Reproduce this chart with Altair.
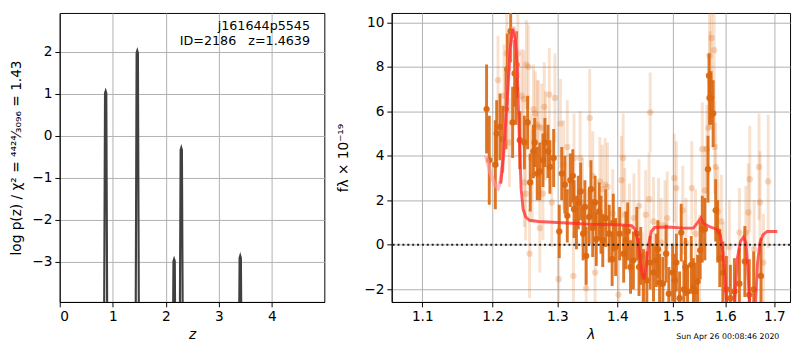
import altair as alt
import pandas as pd

# ---------------- left panel: log p(z) ----------------
pz_z = [0.0, 0.826, 0.854, 0.866, 0.878, 0.906,
        1.422, 1.450, 1.462, 1.474, 1.502,
        2.117, 2.145, 2.157, 2.169, 2.197,
        2.252, 2.280, 2.292, 2.304, 2.332,
        3.364, 3.392, 3.404, 3.416, 3.444, 4.99]
pz_logp = [-8, -8, 1.02, 1.07, 1.02, -8,
           -8, 1.98, 2.03, 1.98, -8,
           -8, -2.98, -2.93, -2.98, -8,
           -8, -0.33, -0.28, -0.33, -8,
           -8, -2.90, -2.85, -2.90, -8, -8]
ann_labels = ["j161644p5545", "ID=2186\u00a0\u00a0\u00a0z=1.4639"]
ann_z = [4.72, 4.72]
ann_logp = [2.62, 2.27]

# ---------------- right panel: spectrum ----------------
dark_wave = [1.191, 1.195, 1.204, 1.206, 1.211, 1.215, 1.220, 1.222, 1.227, 1.230,
             1.233, 1.236, 1.235, 1.241, 1.248, 1.253, 1.257, 1.262, 1.264, 1.268,
             1.272, 1.277, 1.280, 1.285, 1.288, 1.294, 1.303, 1.307, 1.312, 1.316,
             1.321, 1.325, 1.327, 1.331, 1.334, 1.338, 1.342, 1.345, 1.347, 1.352,
             1.355, 1.358, 1.362, 1.364, 1.369, 1.372, 1.375, 1.380, 1.386, 1.391,
             1.393, 1.397, 1.404, 1.411, 1.415, 1.418, 1.423, 1.428, 1.434, 1.438,
             1.441, 1.446, 1.452, 1.458, 1.464, 1.469, 1.472, 1.475, 1.481, 1.487,
             1.492, 1.499, 1.503, 1.506, 1.512, 1.515, 1.520, 1.523, 1.527, 1.534,
             1.538, 1.541, 1.546, 1.551, 1.555, 1.560, 1.566, 1.568, 1.569, 1.572,
             1.576, 1.581, 1.585, 1.589, 1.595, 1.602, 1.610, 1.618, 1.628, 1.639,
             1.648, 1.657, 1.672]
dark_flux = [6.1, 3.8, 3.6, 5.0, 5.3, 4.75, 6.1, 7.9, 9.6, 5.5,
             7.7, 8.1, 7.0, 4.7, 4.6, 5.5, 2.8, 4.2, 4.6, 3.2,
             3.3, 3.8, 4.6, 4.2, 3.5, 3.9, 0.6, 3.2, 2.7, 1.3,
             2.9, 3.1, 1.6, 1.0, 1.9, 2.4, 0.5, 1.7, -0.5, 1.25,
             2.5, 0.75, 1.9, 0.25, 1.5, 0.9, 0.2, 1.2, 0.5, -0.65,
             1.0, -0.1, 0.5, -0.4, 0.2, 0.6, -1.0, -0.7, 0.5, -1.0,
             -0.5, -1.4, -1.6, -0.8, -1.25, -0.7, -0.2, -1.7, -1.75, -0.4,
             -2.2, -1.25, -1.6, -0.8, -2.4, 0.55, -2.0, -1.0, -2.1, -0.9,
             -1.9, -2.1, -1.65, -0.25, 0.7, 0.7, 3.4, 7.6, 6.6, 6.6,
             5.9, 1.55, 0.6, -0.6, -1.25, -2.0, -2.4, -2.1, -1.75, -0.75,
             -2.25, -2.0, -1.4]
dark_err = [2.0, 2.0, 2.0, 1.5, 1.5, 1.5, 1.8, 1.6, 1.4, 1.6,
            1.5, 1.5, 1.6, 1.3, 1.2, 1.2, 1.3, 1.2, 1.1, 1.2,
            1.3, 1.2, 1.1, 1.2, 1.2, 1.3, 1.2, 1.2, 1.3, 1.2,
            1.2, 1.2, 1.3, 1.2, 1.2, 1.3, 1.2, 1.2, 1.3, 1.2,
            1.3, 1.3, 1.2, 1.2, 1.3, 1.3, 1.2, 1.3, 1.3, 1.2,
            1.3, 1.3, 1.2, 1.3, 1.3, 1.3, 1.2, 1.3, 1.2, 1.3,
            1.3, 1.2, 1.3, 1.2, 1.3, 1.2, 1.3, 1.3, 1.2, 1.3,
            1.2, 1.3, 1.2, 1.3, 1.2, 1.3, 1.3, 1.3, 1.2, 1.3,
            1.3, 1.3, 1.2, 1.3, 1.5, 1.4, 1.5, 1.0, 1.2, 1.2,
            1.5, 1.4, 1.4, 1.3, 1.4, 1.5, 1.5, 1.5, 1.6, 1.6,
            1.6, 1.7, 1.7]

light_wave = [1.208, 1.217, 1.221, 1.225, 1.238, 1.244, 1.247, 1.251, 1.254, 1.248,
              1.250, 1.256, 1.258, 1.260, 1.262, 1.265, 1.268, 1.270, 1.272, 1.275,
              1.277, 1.279, 1.281, 1.287, 1.291, 1.296, 1.302, 1.305, 1.310, 1.316,
              1.326, 1.327, 1.337, 1.341, 1.347, 1.353, 1.358, 1.362, 1.370, 1.374,
              1.379, 1.383, 1.392, 1.402, 1.407, 1.410, 1.413, 1.421, 1.429, 1.438,
              1.444, 1.450, 1.456, 1.458, 1.464, 1.473, 1.478, 1.485, 1.489, 1.502,
              1.506, 1.518, 1.524, 1.535, 1.542, 1.550, 1.555, 1.560, 1.564, 1.567,
              1.569, 1.570, 1.573, 1.578, 1.579, 1.581, 1.585, 1.592, 1.596, 1.608,
              1.628, 1.641, 1.646, 1.649, 1.658, 1.668, 1.670, 1.677, 1.687]
light_flux = [7.4, 6.7, 8.6, 4.6, 8.6, 6.7, 6.55, 8.1, 8.0, 2.8,
              2.3, -0.4, 3.9, 3.1, 6.1, 5.9, 5.4, 5.3, 0.75, 5.25,
              2.3, 6.2, 4.9, 6.75, 1.9, 6.6, -1.55, 5.45, 3.6, 4.4,
              -1.4, 3.9, 3.9, 1.9, -1.95, 5.7, 3.1, -1.25, 2.85, 2.5,
              2.7, 2.6, 1.4, -2.25, 2.9, 3.9, 1.35, 0.75, 1.2, 1.75,
              -1.45, 1.35, 2.05, 5.95, 1.05, 0.9, 0.1, 0.9, 1.2, 3.0,
              2.55, 1.55, 0.1, 2.55, 0.5, -0.65, 4.3, 2.45, 4.3, 5.25,
              8.5, 7.4, 9.3, 8.75, 4.4, 3.5, 1.5, 1.05, -1.0, -0.1,
              0.55, 0.55, 1.45, 2.95, -0.2, 3.5, 1.9, -0.8, 2.85]
light_err = [2.0, 2.3, 2.2, 2.0, 2.0, 2.1, 2.2, 2.0, 1.9, 2.0,
             2.1, 2.0, 2.0, 2.1, 2.0, 1.9, 2.0, 2.1, 2.0, 2.0,
             2.1, 2.0, 2.0, 2.1, 2.0, 2.0, 2.1, 2.0, 2.0, 2.1,
             2.0, 2.0, 2.1, 2.0, 2.0, 2.2, 2.0, 2.1, 2.0, 2.0,
             2.1, 2.0, 2.0, 2.1, 2.0, 2.0, 2.1, 2.0, 2.0, 2.1,
             2.0, 2.0, 2.1, 1.8, 2.0, 2.1, 2.0, 2.0, 2.1, 2.0,
             2.1, 2.0, 2.0, 2.1, 2.0, 2.0, 2.1, 2.0, 2.0, 2.1,
             2.2, 2.2, 2.2, 2.2, 2.1, 2.0, 2.0, 2.1, 2.0, 2.1,
             2.0, 2.1, 2.2, 2.4, 2.2, 2.4, 2.3, 2.2, 3.0]

model_wave = [1.212, 1.216, 1.221, 1.226, 1.230, 1.234, 1.237, 1.240, 1.243, 1.246,
              1.250, 1.256, 1.270, 1.300, 1.350, 1.400, 1.425, 1.431, 1.436, 1.440,
              1.443, 1.447, 1.451, 1.455, 1.460, 1.466, 1.490, 1.520, 1.538, 1.546,
              1.552, 1.558, 1.570, 1.583, 1.590, 1.595, 1.599, 1.603, 1.607, 1.616,
              1.620, 1.624, 1.630, 1.636, 1.641, 1.645, 1.649, 1.653, 1.658, 1.661,
              1.665, 1.670, 1.676, 1.685, 1.706]
model_flux = [2.75, 4.0, 6.2, 8.8, 9.7, 9.3, 8.0, 5.0, 2.5, 1.6,
              1.25, 1.1, 1.05, 1.0, 0.93, 0.9, 0.86, 0.7, 0.2, -0.6,
              -1.25, -1.55, -0.9, 0.0, 0.6, 0.78, 0.8, 0.75, 0.75, 1.0,
              1.2, 0.95, 0.8, 0.7, 0.45, -0.3, -1.4, -2.8, -4.0, -4.0,
              -2.0, -0.6, 0.15, 0.35, 0.1, -1.0, -2.8, -4.0, -4.0, -2.5,
              -0.8, 0.1, 0.45, 0.6, 0.6]

model2_wave = [1.190, 1.197, 1.203, 1.208, 1.212, 1.216, 1.221, 1.226, 1.231, 1.235, 1.238]
model2_flux = [4.0, 3.2, 2.7, 2.55, 2.9, 4.0, 6.2, 8.8, 9.8, 9.2, 7.5]

stamp = "Sun Apr 26 00:08:46 2020"

# ---------------- build frames ----------------
df_pz = pd.DataFrame({"z": pz_z, "logp": pz_logp})
df_ann = pd.DataFrame({"z": ann_z, "logp": ann_logp, "label": ann_labels})

df_dark = pd.DataFrame({"wave": dark_wave, "flux": dark_flux})
df_dark["lo"] = df_dark["flux"] - pd.Series(dark_err)
df_dark["hi"] = df_dark["flux"] + pd.Series(dark_err)
df_light = pd.DataFrame({"wave": light_wave, "flux": light_flux})
df_light["lo"] = df_light["flux"] - pd.Series(light_err)
df_light["hi"] = df_light["flux"] + pd.Series(light_err)
df_model = pd.DataFrame({"wave": model_wave, "flux": model_flux})
df_model2 = pd.DataFrame({"wave": model2_wave, "flux": model2_flux})
df_zero = pd.DataFrame({"flux": [0.0]})
df_stamp = pd.DataFrame({"t": [stamp]})

minus = "replace(datum.label, '-', '\u2212')"
ORANGE = "#da6710"

# ---------------- left chart ----------------
xz = alt.X("z:Q", scale=alt.Scale(domain=[0, 4.99], nice=False, zero=False),
           axis=alt.Axis(values=[0, 1, 2, 3, 4], title="z", titleFontStyle="italic",
                         titlePadding=4))
yz = alt.Y("logp:Q", scale=alt.Scale(domain=[-3.95, 2.93], nice=False, zero=False),
           axis=alt.Axis(values=[-3, -2, -1, 0, 1, 2], labelExpr=minus,
                         title="log p(z) / \u03c7\u00b2 = \u2074\u2074\u00b2\u2074\u2044\u2083\u2080\u2089\u2086 = 1.43",
                         titlePadding=9))

left_line = alt.Chart(df_pz).mark_line(color="#404040", strokeWidth=2.2, clip=True).encode(x=xz, y=yz)
left_text = alt.Chart(df_ann).mark_text(align="right", baseline="middle", fontSize=13,
                                        font="DejaVu Sans", color="black").encode(
    x="z:Q", y="logp:Q", text="label:N")
left = alt.layer(left_line, left_text).properties(width=271, height=296)

# ---------------- right chart ----------------
xw = alt.X("wave:Q", scale=alt.Scale(type="log", domain=[1.0592, 1.7332], nice=False, zero=False),
           axis=alt.Axis(values=[1.1, 1.2, 1.3, 1.4, 1.5, 1.6, 1.7], format=".1f", title="\u03bb",
                         titleFontStyle="italic", titlePadding=4))
ylo = alt.Y("lo:Q", scale=alt.Scale(domain=[-2.57, 10.42], nice=False, zero=False),
            axis=alt.Axis(values=[-2, 0, 2, 4, 6, 8, 10], labelExpr=minus,
                          title="f\u03bb \u00d7 10\u207b\u00b9\u2079", titlePadding=14))

light_bars = alt.Chart(df_light).mark_rule(color=ORANGE, strokeWidth=3, opacity=0.2, clip=True).encode(
    x=xw, y=ylo, y2="hi:Q")
light_pts = alt.Chart(df_light).mark_circle(color=ORANGE, size=42, opacity=0.25, clip=True).encode(
    x="wave:Q", y="flux:Q")
dark_bars = alt.Chart(df_dark).mark_rule(color=ORANGE, strokeWidth=3, opacity=0.9, clip=True).encode(
    x="wave:Q", y="lo:Q", y2="hi:Q")
dark_pts = alt.Chart(df_dark).mark_circle(color=ORANGE, size=42, opacity=0.95, clip=True).encode(
    x="wave:Q", y="flux:Q")
model2 = alt.Chart(df_model2).mark_line(color="#ff9aa6", strokeWidth=4, opacity=0.65, clip=True).encode(
    x="wave:Q", y="flux:Q")
model = alt.Chart(df_model).mark_line(color="#ff2a2a", strokeWidth=3, opacity=0.75, clip=True).encode(
    x="wave:Q", y="flux:Q")
zero = alt.Chart(df_zero).mark_rule(color="#222222", strokeWidth=2, strokeDash=[2, 3]).encode(y="flux:Q")
stamp_txt = alt.Chart(df_stamp).mark_text(align="right", baseline="middle", fontSize=8,
                                          font="DejaVu Sans", color="black").encode(
    x=alt.value(397), y=alt.value(332), text="t:N")

right = alt.layer(light_bars, light_pts, dark_bars, dark_pts, model2, model, zero, stamp_txt).properties(
    width=408, height=296)

chart = alt.hconcat(left, right, spacing=10).properties(padding=0).configure_view(
    stroke="black", strokeWidth=1
).configure_axis(
    labelFont="DejaVu Sans", titleFont="DejaVu Sans", labelFontSize=14, titleFontSize=14,
    labelColor="black", titleColor="black", tickColor="black", domainColor="black",
    gridColor="#b0b0b0", gridWidth=1, gridOpacity=1, tickSize=5, labelPadding=3,
    titleFontWeight="normal"
)

chart.save("out.html", embed_options={"renderer": "svg", "actions": False})
